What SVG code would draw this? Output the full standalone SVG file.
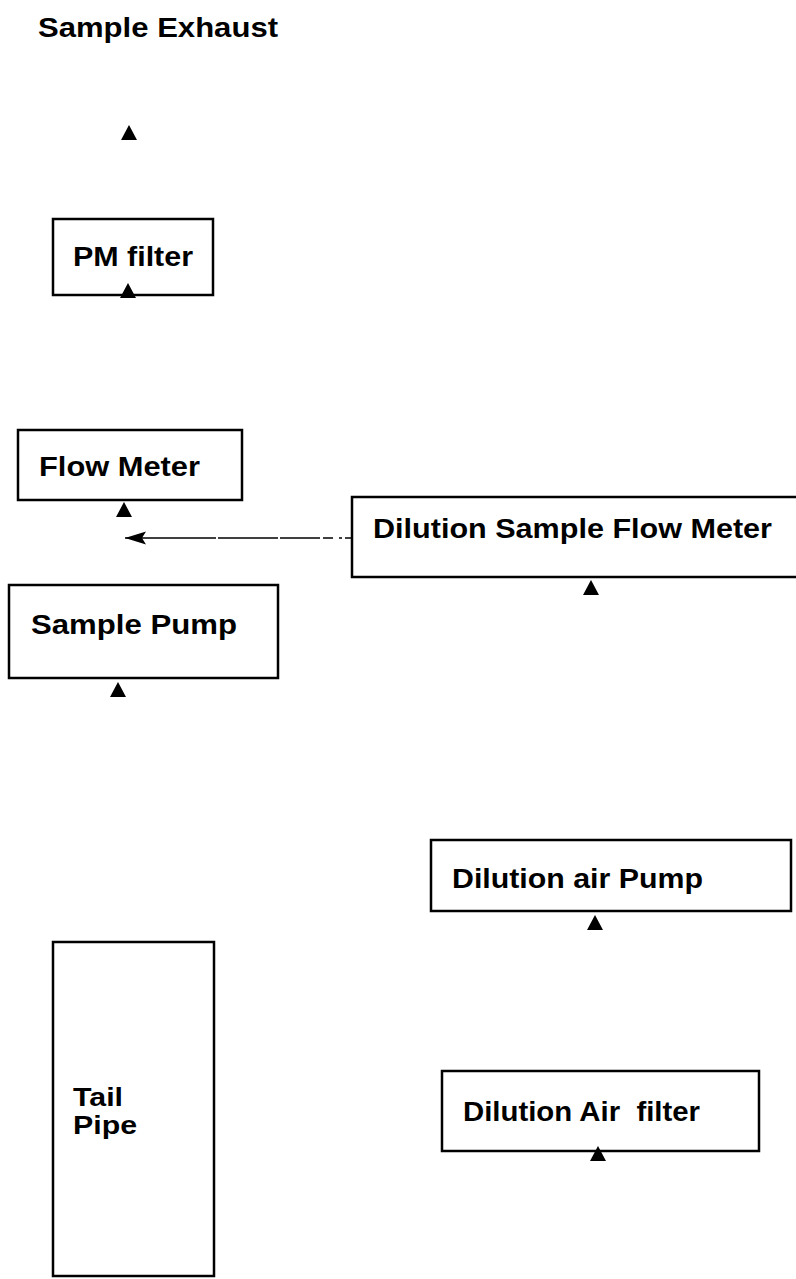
<svg xmlns="http://www.w3.org/2000/svg" xmlns:xlink="http://www.w3.org/1999/xlink" width="796" height="1279" viewBox="0 0 796 1279">
<style>
.box{fill:#fff;stroke:#000;stroke-width:2.5}
.lbl{font-family:"Liberation Sans",Arial,sans-serif;font-size:27px;font-weight:bold;fill:#000}
.sm{font-size:25px}
.dash{stroke:#000;stroke-width:1.4;fill:none;stroke-dasharray:6 3 3 6 10 3 40 2 60 2 300}
</style>
<defs>
<path id="tri" d="M0,0 L8,15 L-8,15 Z" fill="#000"/>
<marker id="ahl" markerWidth="22" markerHeight="14" refX="21" refY="7" orient="auto" markerUnits="userSpaceOnUse">
<path d="M21,7 L0,0.5 L4,7 L0,13.5 Z" fill="#000"/>
</marker>
</defs>
<rect width="796" height="1279" fill="#fff"/>
<g id="sample-exhaust">
<text class="lbl" x="38" y="37" textLength="240" lengthAdjust="spacingAndGlyphs">Sample Exhaust</text>
</g>
<g id="pm-filter">
<rect class="box" x="53" y="219" width="160" height="76"/>
<text class="lbl" x="73" y="266" textLength="120" lengthAdjust="spacingAndGlyphs">PM filter</text>
</g>
<g id="flow-meter">
<rect class="box" x="18" y="430" width="224" height="70"/>
<text class="lbl" x="39" y="476" textLength="161" lengthAdjust="spacingAndGlyphs">Flow Meter</text>
</g>
<g id="sample-pump">
<rect class="box" x="9" y="585" width="269" height="93"/>
<text class="lbl" x="31" y="634" textLength="206" lengthAdjust="spacingAndGlyphs">Sample Pump</text>
</g>
<g id="dilution-sample-flow-meter">
<rect class="box" x="352" y="497" width="450" height="80"/>
<text class="lbl" x="373" y="538" textLength="399" lengthAdjust="spacingAndGlyphs">Dilution Sample Flow Meter</text>
</g>
<g id="dilution-air-pump">
<rect class="box" x="431" y="840" width="360" height="71"/>
<text class="lbl" x="452" y="888" textLength="251" lengthAdjust="spacingAndGlyphs">Dilution air Pump</text>
</g>
<g id="dilution-air-filter">
<rect class="box" x="442" y="1071" width="317" height="80"/>
<text class="lbl" x="463" y="1121" textLength="237" lengthAdjust="spacingAndGlyphs" xml:space="preserve">Dilution Air  filter</text>
</g>
<g id="tail-pipe">
<rect class="box" x="53" y="942" width="161" height="334"/>
<text class="lbl sm" x="73" y="1106" textLength="50" lengthAdjust="spacingAndGlyphs">Tail</text>
<text class="lbl sm" x="73" y="1134" textLength="64" lengthAdjust="spacingAndGlyphs">Pipe</text>
</g>
<g id="connectors">
<use xlink:href="#tri" x="129" y="125"/>
<use xlink:href="#tri" x="128" y="283"/>
<use xlink:href="#tri" x="124" y="502"/>
<use xlink:href="#tri" x="118" y="682"/>
<use xlink:href="#tri" x="591" y="580"/>
<use xlink:href="#tri" x="595" y="915"/>
<use xlink:href="#tri" x="598" y="1146"/>
<line class="dash" x1="351" y1="538" x2="125" y2="538" marker-end="url(#ahl)"/>
</g>
</svg>
